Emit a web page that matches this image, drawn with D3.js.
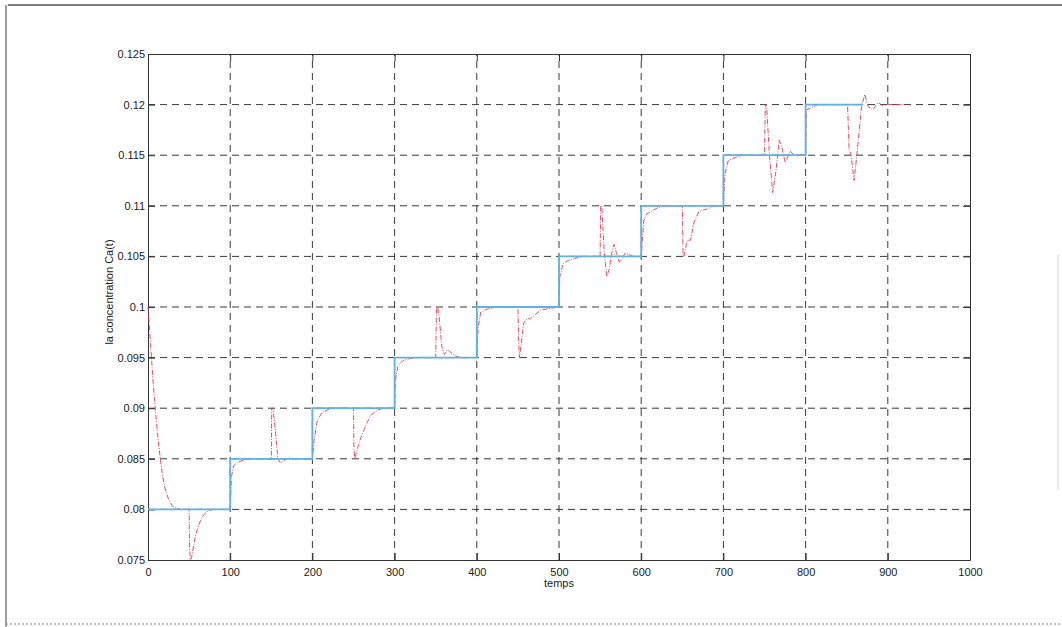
<!DOCTYPE html>
<html>
<head>
<meta charset="utf-8">
<script src="https://cdn.jsdelivr.net/npm/d3@7"></script>
<style>
  html, body { margin: 0; padding: 0; background: #fff; }
  svg { display: block; }
  text { font-family: "Liberation Sans", Arial, Helvetica, sans-serif; fill: #1a1a1a; }
</style>
</head>
<body>
<svg id="chart" width="1062" height="627"></svg>
<script>
// Consigne (setpoint) : paliers de concentration
const stepStarts = [0, 100, 200, 300, 400, 500, 600, 700, 800];
const stepLevels = [0.08, 0.085, 0.09, 0.095, 0.1, 0.105, 0.11, 0.115, 0.12];
const stepEnd = 870;

// Réponse simulée Ca(t)
const respT = [0, 3, 6, 9, 12, 15, 18, 21, 25, 30, 35, 40, 50,
  50.5, 51.5, 53, 55.5, 58, 61.5, 65, 68, 74, 80, 100,
  101.5, 104, 110, 118, 125, 150,
  150.5, 152, 155, 158, 161, 165, 171, 178, 200,
  202, 206, 212, 220, 230, 250,
  250.5, 251.5, 255, 259, 265, 271, 279, 286, 300,
  301, 304, 310, 318, 326, 350,
  351, 352.5, 354.6, 357.4, 360.6, 364.6, 368.7, 373, 380, 400,
  401.6, 404.8, 413, 425, 450,
  451, 451.8, 454.5, 457, 462, 465, 470, 478, 485, 492, 500,
  501, 505, 511, 519, 530, 550,
  550.7, 552, 555, 558, 561, 564, 567, 570, 573, 576, 580, 585, 590, 600,
  601, 603, 607, 613, 620, 630, 650,
  651, 652, 656, 660, 664, 670, 676, 681, 688, 700,
  702, 706, 716, 725, 750,
  751, 752.5, 756, 760, 764, 768, 772, 775, 778, 781, 785, 789, 795, 800,
  801, 807, 815, 850,
  851, 853, 855, 859, 863, 868, 872, 876, 882, 888, 894, 900, 910, 921];
const respC = [0.1, 0.0965, 0.0928, 0.0898, 0.0872, 0.085, 0.0832, 0.082, 0.081, 0.0803, 0.0801, 0.08, 0.08,
  0.0765, 0.075, 0.0752, 0.0764, 0.0775, 0.0784, 0.0791, 0.0795, 0.0799, 0.08, 0.08,
  0.0832, 0.0843, 0.0847, 0.0849, 0.085, 0.085,
  0.09, 0.09, 0.0878, 0.085, 0.0846, 0.0848, 0.0851, 0.085, 0.085,
  0.0868, 0.0888, 0.0896, 0.0899, 0.09, 0.09,
  0.086, 0.085, 0.0861, 0.0871, 0.0883, 0.0893, 0.0898, 0.09, 0.09,
  0.0927, 0.0942, 0.0947, 0.0949, 0.095, 0.095,
  0.1, 0.1, 0.0987, 0.0961, 0.0953, 0.0958, 0.0955, 0.0952, 0.095, 0.095,
  0.098, 0.0995, 0.0998, 0.1, 0.1,
  0.0965, 0.095, 0.0967, 0.0984, 0.0989, 0.0988, 0.0992, 0.0997, 0.0998, 0.0999, 0.1,
  0.103, 0.1043, 0.1046, 0.1048, 0.105, 0.105,
  0.11, 0.11, 0.1055, 0.103, 0.1037, 0.1053, 0.1062, 0.1053, 0.1045, 0.1046, 0.1053, 0.1052, 0.105, 0.105,
  0.106, 0.1085, 0.1092, 0.1095, 0.1098, 0.11, 0.11,
  0.105, 0.105, 0.1066, 0.1066, 0.1083, 0.1094, 0.1096, 0.1097, 0.11, 0.11,
  0.1132, 0.1145, 0.1148, 0.115, 0.115,
  0.12, 0.12, 0.115, 0.1113, 0.1135, 0.1165, 0.1155, 0.1143, 0.1148, 0.1154, 0.1151, 0.1149, 0.1151, 0.115,
  0.1195, 0.1197, 0.12, 0.12,
  0.12, 0.1155, 0.1152, 0.1125, 0.1155, 0.1198, 0.121, 0.1198, 0.1195, 0.1202, 0.1199, 0.12, 0.12, 0.12];

// Graduations
const xTicks = [0, 100, 200, 300, 400, 500, 600, 700, 800, 900, 1000];
const yTicks = [0.075, 0.08, 0.085, 0.09, 0.095, 0.1, 0.105, 0.11, 0.115, 0.12, 0.125];

const svg = d3.select("#chart");
const L = 148, R = 970, T = 54, B = 560;

const x = d3.scaleLinear().domain([0, 1000]).range([L, R]);
const y = d3.scaleLinear().domain([0.075, 0.125]).range([B, T]);
const fmt = d => String(+d.toFixed(3));

// Cadre extérieur
svg.append("line").attr("x1", 8).attr("x2", 1062).attr("y1", 5).attr("y2", 5)
  .attr("stroke", "#555").attr("stroke-width", 1.6);
svg.append("line").attr("x1", 6).attr("x2", 6).attr("y1", 5).attr("y2", 627)
  .attr("stroke", "#666").attr("stroke-width", 1.3);
svg.append("line").attr("x1", 6).attr("x2", 1062).attr("y1", 624).attr("y2", 624)
  .attr("stroke", "#aaa").attr("stroke-width", 1.5).attr("stroke-dasharray", "2,2");
svg.append("line").attr("x1", 1058).attr("x2", 1058).attr("y1", 255).attr("y2", 490)
  .attr("stroke", "#d4d4d4").attr("stroke-width", 1);

// Grille
const grid = svg.append("g").attr("stroke", "#222").attr("stroke-width", 0.9)
  .attr("stroke-dasharray", "7,5");
grid.selectAll("line.v").data(xTicks.slice(1, -1)).join("line")
  .attr("x1", d => x(d)).attr("x2", d => x(d)).attr("y1", B).attr("y2", T);
grid.selectAll("line.h").data(yTicks.slice(1, -1)).join("line")
  .attr("y1", d => y(d)).attr("y2", d => y(d)).attr("x1", L).attr("x2", R);

// Axes (graduations vers l'intérieur)
const axStyle = g => {
  g.select(".domain").attr("stroke", "#333").attr("stroke-width", 1);
  g.selectAll(".tick line").attr("stroke", "#333");
  g.selectAll("text").attr("font-size", 11).attr("fill", "#1a1a1a");
};
svg.append("g").attr("transform", `translate(0,${B})`)
  .call(d3.axisBottom(x).tickValues(xTicks).tickFormat(fmt).tickSizeInner(-7).tickSizeOuter(0).tickPadding(6))
  .call(axStyle).call(g => g.selectAll("text").attr("dy", "0.9em"));
svg.append("g").attr("transform", `translate(0,${T})`)
  .call(d3.axisTop(x).tickValues(xTicks).tickFormat("").tickSizeInner(-7).tickSizeOuter(0))
  .call(axStyle);
svg.append("g").attr("transform", `translate(${L},0)`)
  .call(d3.axisLeft(y).tickValues(yTicks).tickFormat(fmt).tickSizeInner(-7).tickSizeOuter(0).tickPadding(3))
  .call(axStyle);
svg.append("g").attr("transform", `translate(${R},0)`)
  .call(d3.axisRight(y).tickValues(yTicks).tickFormat("").tickSizeInner(-7).tickSizeOuter(0))
  .call(axStyle);

// Réponse Ca(t)
const resp = respT.map((t, i) => [t, respC[i]]);
svg.append("path").datum(resp)
  .attr("fill", "none").attr("stroke", "#de3a5a").attr("stroke-width", 1)
  .attr("stroke-dasharray", "5,1.5,1,1.5").attr("stroke-opacity", 0.9)
  .attr("d", d3.line().x(d => x(d[0])).y(d => y(d[1])));

// Consigne en escalier
const steps = stepStarts.map((t, i) => [t, stepLevels[i]]);
steps.push([stepEnd, stepLevels[stepLevels.length - 1]]);
svg.append("path").datum(steps)
  .attr("fill", "none").attr("stroke", "#5eb3e4").attr("stroke-width", 1.8)
  .attr("d", d3.line().curve(d3.curveStepAfter).x(d => x(d[0])).y(d => y(d[1])));

// Libellés des axes
svg.append("text").attr("x", (L + R) / 2).attr("y", 587).attr("text-anchor", "middle")
  .attr("font-size", 11).text("temps");
svg.append("text").attr("transform", `translate(113,292) rotate(-90)`)
  .attr("text-anchor", "middle").attr("font-size", 11).text("la concentration Ca(t)");
</script>
</body>
</html>
